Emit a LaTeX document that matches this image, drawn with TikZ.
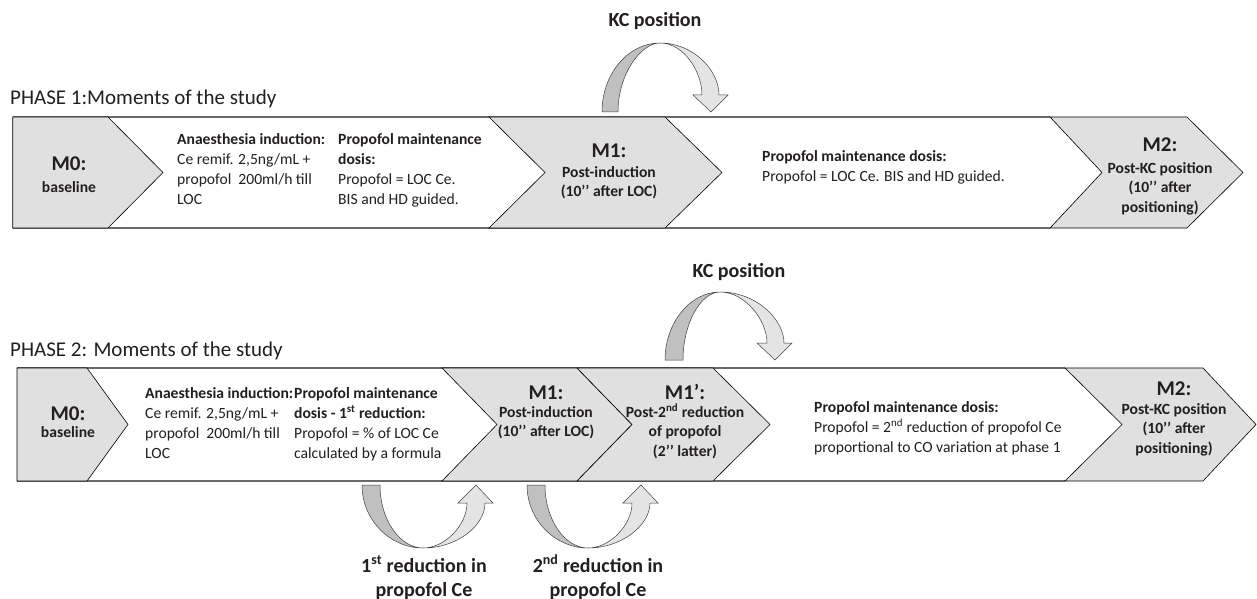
\documentclass[tikz,border=0pt]{standalone}
\usepackage{fontspec}
\setmainfont{Carlito}
\definecolor{chev}{RGB}{224,224,224}
\definecolor{barline}{RGB}{105,105,105}
\definecolor{arrdark}{RGB}{192,192,192}
\definecolor{arrlight}{RGB}{228,228,228}
\definecolor{txt}{RGB}{35,31,32}
\tikzset{
  bar/.style={draw=barline,line width=1.3pt},
  chevron/.style={fill=chev,draw=black,line width=0.6pt,line join=miter},
  darkband/.style={fill=arrdark,draw=black!75,line width=0.5pt},
  lightband/.style={fill=arrlight,draw=black!75,line width=0.5pt},
  titletext/.style={inner sep=0pt,anchor=base west,text=txt,font=\fontsize{21}{25}\selectfont},
  body/.style={inner sep=0pt,anchor=base west,align=left,text=txt,font=\fontsize{15.6}{20}\selectfont},
  mlabel/.style={inner sep=0pt,anchor=base,text=txt,font=\bfseries\fontsize{21}{25}\selectfont},
  msub/.style={inner sep=0pt,anchor=base,align=center,text=txt,font=\bfseries\fontsize{15.6}{19.5}\selectfont},
  arrowlabel/.style={inner sep=0pt,anchor=base,align=center,text=txt,font=\bfseries\fontsize{20}{24}\selectfont}
}
\begin{document}
\begin{tikzpicture}[x=1pt,y=-1pt]
\useasboundingbox[fill=white] (0,0) rectangle (1257,599);
% multi-line nodes are anchored at the baseline of their LAST line

% ---------------- PHASE 1 ----------------
\node[titletext] (t1) at (10,105) {PHASE 1:Moments of the study};
\draw[bar] (12.7,117) -- (1050,117);
\draw[bar] (12.7,228) -- (1050,228);
\draw[chevron] (12.7,117) -- (108,117) -- (163,172.5) -- (108,228) -- (12.7,228) -- cycle;
\draw[chevron] (489,117) -- (665,117) -- (722,172.5) -- (665,228) -- (489,228) -- (545,172.5) -- cycle;
\draw[chevron] (1050,117) -- (1187,117) -- (1243,172.5) -- (1187,228) -- (1050,228) -- (1102,172.5) -- cycle;

\node[mlabel] (p1m0) at (69,170) {M0:};
\node[msub] (p1m0s) at (69,192) {baseline};

\node[body] (p1a) at (177,204) {\textbf{Anaesthesia induction:}\\Ce remif. 2,5ng/mL +\\propofol\ \ 200ml/h till\\LOC};
\node[body] (p1b) at (338,204) {\textbf{Propofol maintenance}\\\textbf{dosis:}\\Propofol = LOC Ce.\\BIS and HD guided.};

\node[mlabel] (p1m1) at (609,157) {M1:};
\node[msub] (p1m1s) at (609,196.5) {Post-induction\\(10’’ after LOC)};

\node[body] (p1c) at (762,181) {\textbf{Propofol maintenance dosis:}\\Propofol = LOC Ce. BIS and HD guided.};

\node[mlabel] (p1m2) at (1160,151) {M2:};
\node[msub] (p1m2s) at (1160,212) {Post-KC position\\(10’’ after\\positioning)};

% KC arrow phase 1
\node[arrowlabel] (kc1) at (655,27) {KC position};
\draw[darkband] (602,112) .. controls (602,74) and (628,43) .. (660,43)
  .. controls (641,43) and (618,74) .. (618,112) -- cycle;
\draw[lightband] (660,43) .. controls (693,43) and (719,70) .. (719,95)
  -- (728,95) -- (711,112) -- (693,95) -- (702,95)
  .. controls (702,72) and (684,43) .. (660,43) -- cycle;

% ---------------- PHASE 2 ----------------
\node[titletext] (t2) at (10,356) {PHASE 2: Moments of the study};
\draw[bar] (17,368) -- (1065,368);
\draw[bar] (17,481) -- (1065,481);
\draw[chevron] (17,368) -- (87,368) -- (128,424.5) -- (87,481) -- (17,481) -- cycle;
\draw[chevron] (442,368) -- (577,368) -- (632,424.5) -- (577,481) -- (442,481) -- (497,424.5) -- cycle;
\draw[chevron] (577,368) -- (713,368) -- (770,424.5) -- (713,481) -- (577,481) -- (632,424.5) -- cycle;
\draw[chevron] (1065,368) -- (1203,368) -- (1256,424.5) -- (1203,481) -- (1065,481) -- (1122,424.5) -- cycle;

\node[mlabel] (p2m0) at (68,420) {M0:};
\node[msub] (p2m0s) at (68,437) {baseline};

\node[body] (p2a) at (145,458) {\textbf{Anaesthesia induction:}\\Ce remif. 2,5ng/mL +\\propofol\ \ 200ml/h till\\LOC};
\node[body] (p2b) at (294,458) {\textbf{Propofol maintenance}\\\textbf{dosis - 1\textsuperscript{st} reduction:}\\Propofol = \% of LOC Ce\\calculated by a formula};

\node[mlabel] (p2m1) at (546,399) {M1:};
\node[msub] (p2m1s) at (546,436.5) {Post-induction\\(10’’ after LOC)};

\node[mlabel] (p2m1p) at (685,399) {M1’:};
\node[msub] (p2m1ps) at (685,456) {Post-2\textsuperscript{nd} reduction\\of propofol\\(2’’ latter)};

\node[body] (p2c) at (814,452) {\textbf{Propofol maintenance dosis:}\\Propofol = 2\textsuperscript{nd} reduction of propofol Ce\\proportional to CO variation at phase 1};

\node[mlabel] (p2m2) at (1174,395) {M2:};
\node[msub] (p2m2s) at (1174,453) {Post-KC position\\(10’’ after\\positioning)};

% KC arrow phase 2
\node[arrowlabel] (kc2) at (739,277) {KC position};
\draw[darkband] (665,360) .. controls (665,323) and (690,292) .. (720,292)
  .. controls (701,292) and (683,323) .. (683,360) -- cycle;
\draw[lightband] (720,292) .. controls (757,292) and (784,320) .. (784,343)
  -- (792,343) -- (775,360) -- (757,343) -- (767,343)
  .. controls (767,320) and (745,292) .. (720,292) -- cycle;

% reduction arrows
\draw[darkband] (362,485) .. controls (362,520) and (390,548) .. (423,548)
  .. controls (400,548) and (380,520) .. (380,485) -- cycle;
\draw[lightband] (423,548) .. controls (458,548) and (485,525) .. (485,503)
  -- (493,503) -- (476,485) -- (458,503) -- (467,503)
  .. controls (467,525) and (445,548) .. (423,548) -- cycle;
\node[arrowlabel] (r1) at (424,596) {1\textsuperscript{st} reduction in\\propofol Ce};

\draw[darkband] (527,485) .. controls (527,520) and (555,548) .. (588,548)
  .. controls (565,548) and (545,520) .. (545,485) -- cycle;
\draw[lightband] (588,548) .. controls (622,548) and (650,525) .. (650,503)
  -- (658,503) -- (641,485) -- (623,503) -- (632,503)
  .. controls (632,525) and (610,548) .. (588,548) -- cycle;
\node[arrowlabel] (r2) at (598,596) {2\textsuperscript{nd} reduction in\\propofol Ce};
\end{tikzpicture}
\end{document}
